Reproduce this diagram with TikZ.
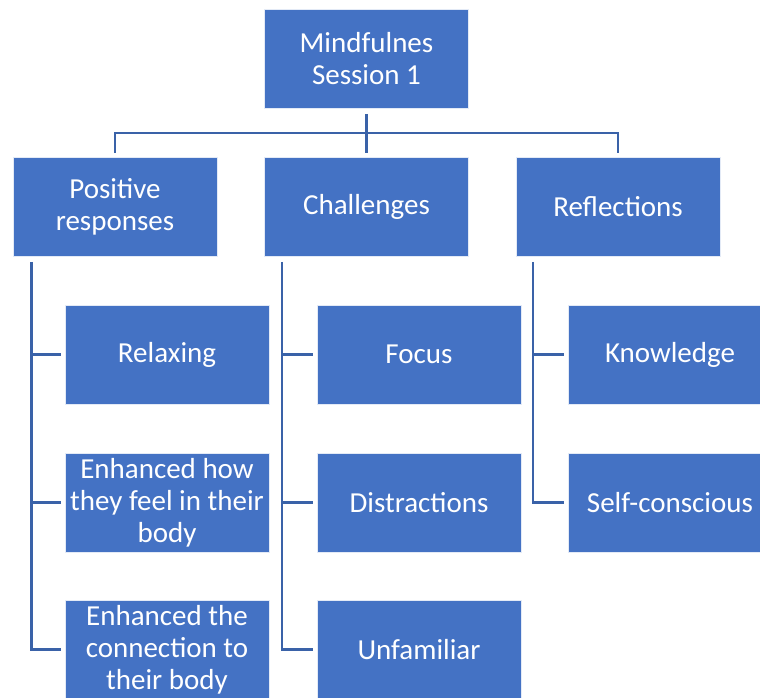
\documentclass[tikz,border=0pt]{standalone}
\usepackage{fontspec}
\setmainfont{Carlito}
\usetikzlibrary{calc}
\definecolor{boxblue}{HTML}{4472C4}
\definecolor{linkblue}{HTML}{3A62A8}
\tikzset{
  box/.style={rectangle, fill=boxblue, draw=white!85!boxblue, line width=0.6bp,
    minimum width=204bp, minimum height=99bp, inner sep=2bp,
    text=white, align=center,
    font=\fontsize{29bp}{32bp}\selectfont},
  conn/.style={draw=linkblue, line width=2.4bp}
}
\begin{document}
\begin{tikzpicture}[x=1bp, y=-1bp]
\useasboundingbox (0,0) rectangle (760,698);
\begin{scope}
\clip (0,0) rectangle (760,698);
% root
\node[box] (root) at (366.5,59) {Mindfulnes\\Session 1};
% second level
\node[box] (pos)  at (115,207)   {Positive\\responses};
\node[box] (chal) at (366.5,207) {Challenges};
\node[box] (refl) at (618,207)   {Reflections};
% children of Positive responses
\node[box] (p1) at (167,354.5) {Relaxing};
\node[box] (p2) at (167,502.5) {Enhanced how\\they feel in their\\body};
\node[box] (p3) at (167,649.5) {Enhanced the\\connection to\\their body};
% children of Challenges
\node[box] (c1) at (419,354.5) {Focus};
\node[box] (c2) at (419,502.5) {Distractions};
\node[box] (c3) at (419,649.5) {Unfamiliar};
% children of Reflections
\node[box] (r1) at (670,354.5) {Knowledge};
\node[box] (r2) at (670,502.5) {Self-conscious};

% root to second level
\coordinate (bar) at (366.5,133);
\draw[conn] ($(root.south)+(0,5)$) -- ($(chal.north)+(0,-4)$);
\draw[conn] ($(pos.north)+(0,-4)$) |- (bar) -| ($(refl.north)+(0,-4)$);

% second level to children
\coordinate (pv) at ($(pos.south west)+(19,5)$);
\coordinate (cv) at ($(chal.south west)+(18,5)$);
\coordinate (rv) at ($(refl.south west)+(17,5)$);
\draw[conn] (pv) |- ($(p3.west)+(-4,0)$);
\draw[conn] (pv |- p1.west) -- ($(p1.west)+(-4,0)$);
\draw[conn] (pv |- p2.west) -- ($(p2.west)+(-4,0)$);
\draw[conn] (cv) |- ($(c3.west)+(-4,0)$);
\draw[conn] (cv |- c1.west) -- ($(c1.west)+(-4,0)$);
\draw[conn] (cv |- c2.west) -- ($(c2.west)+(-4,0)$);
\draw[conn] (rv) |- ($(r2.west)+(-4,0)$);
\draw[conn] (rv |- r1.west) -- ($(r1.west)+(-4,0)$);
\end{scope}
\end{tikzpicture}
\end{document}
